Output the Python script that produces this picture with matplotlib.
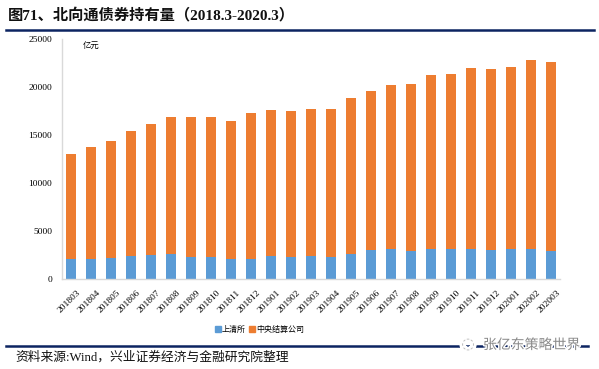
import matplotlib
matplotlib.use("Agg")
import matplotlib.pyplot as plt
import matplotlib.patheffects as pe
from matplotlib.lines import Line2D
from matplotlib.transforms import ScaledTranslation

months = ["201803","201804","201805","201806","201807","201808","201809","201810",
          "201811","201812","201901","201902","201903","201904","201905","201906",
          "201907","201908","201909","201910","201911","201912","202001","202002","202003"]
shclear = [2080,2080,2200,2400,2500,2650,2300,2300,2080,2080,2400,2300,2400,
           2300,2650,3050,3100,2900,3100,3100,3100,3050,3100,3100,2900]
ccdc = [10920,11720,12200,13000,13650,14250,14600,14600,14370,15220,15200,15200,15300,
        15400,16200,16550,17100,17400,18150,18250,18880,18850,19000,19700,19700]
yticks = [0, 5000, 10000, 15000, 20000, 25000]

BLUE = "#5B9BD5"
ORANGE = "#ED7D31"
NAVY = "#0C2461"
SERIF_CJK = ["Liberation Serif", "Noto Sans CJK SC"]

fig = plt.figure(figsize=(5.99, 3.69), dpi=100)
ax = fig.add_axes([62/599, 1-279/369, 498/599, 240/369])

x = list(range(len(months)))
ax.bar(x, shclear, width=0.5, color=BLUE, label="上清所")
ax.bar(x, ccdc, width=0.5, bottom=shclear, color=ORANGE, label="中央结算公司")

ax.set_xlim(-0.45, len(months) - 0.55)
ax.set_ylim(0, 25000)
ax.set_yticks(yticks)
ax.set_yticklabels([str(v) for v in yticks], family="Liberation Serif", fontsize=6.8)
ax.set_xticks(x)
ax.set_xticklabels(months, rotation=45, ha="right", rotation_mode="anchor",
                   family="Liberation Serif", fontsize=6.8)
ax.tick_params(axis="both", length=0)
ax.tick_params(axis="x", pad=7)
ax.tick_params(axis="y", pad=7)
off = ScaledTranslation(5/100, 0, fig.dpi_scale_trans)
for lab in ax.get_xticklabels():
    lab.set_transform(lab.get_transform() + off)
for s in ["top", "right"]:
    ax.spines[s].set_visible(False)
ax.spines["left"].set_color("#D9D9D9")
ax.spines["bottom"].set_color("#D9D9D9")
ax.spines["left"].set_linewidth(1.0)
ax.spines["bottom"].set_linewidth(1.0)

fig.text(91/599, 1-45/369, "亿元", family="Noto Sans CJK SC", fontsize=6, ha="center", va="center")

handles = [Line2D([], [], marker="s", linestyle="", color=BLUE, markersize=4.5),
           Line2D([], [], marker="s", linestyle="", color=ORANGE, markersize=4.5)]
fig.legend(handles, ["上清所", "中央结算公司"], loc="center", bbox_to_anchor=(259/599, 1-329/369),
           ncol=2, frameon=False, prop={"family": "Noto Sans CJK SC", "size": 5.8},
           handletextpad=0.0, columnspacing=0.3, handlelength=1.0)

# title
fig.text(8/599, 1-15/369, "图71、北向通债券持有量（2018.3-2020.3）", family=SERIF_CJK,
         fontsize=11, fontweight="bold", ha="left", va="center", color="#111111")
fig.add_artist(Line2D([6/599, 594/599], [1-30/369, 1-30/369], color=NAVY, lw=1.8))

# bottom rule and source
fig.add_artist(Line2D([6/599, 588/599], [1-346/369, 1-346/369], color=NAVY, lw=1.8))
fig.text(15/599, 1-357/369, "资料来源:Wind，兴业证券经济与金融研究院整理", family=SERIF_CJK,
         fontsize=9.2, ha="left", va="center", color="#111111")
t = fig.text(483/599, 1-345/369, "张亿东策略世界", family="Noto Sans CJK SC", fontsize=10,
             ha="left", va="center", color="#8A8A8A")
t.set_path_effects([pe.withStroke(linewidth=2, foreground="white")])
ic = fig.text(468/599, 1-344/369, "◌", family="DejaVu Sans", fontsize=11, ha="center", va="center",
              color="#BBBBBB")
ic.set_path_effects([pe.withStroke(linewidth=4, foreground="white")])

fig.savefig("out.png", dpi=100)
